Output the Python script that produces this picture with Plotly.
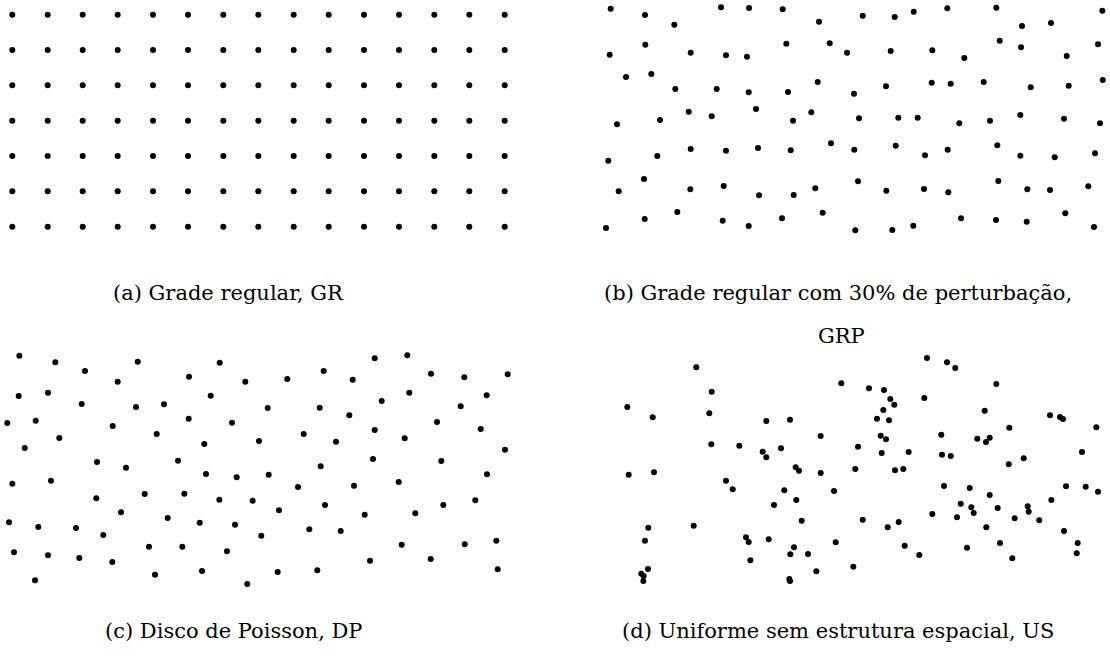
import plotly.graph_objects as go

# ---- point patterns (canvas coordinates, y grows downward) ----

# (a) regular grid: column and row positions
grid_cols = [12.3, 47.7, 82.7, 117.7, 153.0, 188.0, 223.3, 258.3, 293.7, 328.7,
             364.0, 399.0, 434.3, 469.3, 504.7]
grid_rows = [14.7, 50.0, 85.3, 120.7, 156.0, 191.3, 226.7]

# (b) regular grid with 30% perturbation
grp_x = [610.7, 645.0, 674.3, 721.0, 749.0, 782.7, 819.0, 609.7, 645.3, 690.7,
         726.0, 747.0, 786.3, 829.7, 847.0, 626.0, 651.3, 675.3, 716.7, 748.7,
         788.0, 817.7, 617.0, 660.0, 688.7, 711.7, 756.0, 793.0, 811.3, 608.3,
         657.3, 690.7, 726.0, 758.0, 790.7, 831.0, 644.0, 618.7, 690.3, 723.7,
         759.0, 793.7, 815.3, 606.0, 644.7, 677.3, 722.7, 748.7, 782.0, 822.7,
         862.7, 894.7, 913.7, 947.3, 996.3, 1022.0, 1051.0, 1102.3, 890.7, 932.3,
         964.3, 999.7, 1021.0, 1066.7, 1098.0, 854.0, 886.0, 931.7, 950.7, 983.7,
         1030.7, 1068.7, 1102.7, 859.0, 898.3, 917.7, 959.3, 990.0, 1020.3, 1064.0,
         1100.0, 854.3, 895.7, 925.0, 947.7, 997.3, 1020.3, 1054.7, 1095.0, 858.0,
         886.3, 924.0, 948.3, 998.3, 1027.3, 1050.0, 1088.3, 855.3, 892.3, 913.3,
         961.0, 996.0, 1026.7, 1065.3, 1094.0]
grp_y = [8.7, 15.0, 24.7, 7.3, 8.0, 9.3, 21.7, 54.7, 44.7, 52.7,
         55.3, 56.7, 43.7, 43.3, 52.7, 77.0, 74.0, 89.0, 89.0, 92.3,
         92.0, 82.0, 124.3, 120.0, 111.7, 116.3, 109.0, 120.7, 112.3, 160.7,
         156.0, 149.0, 150.7, 148.0, 150.3, 143.3, 179.0, 191.3, 189.3, 186.0,
         195.3, 195.0, 188.3, 228.0, 219.0, 212.0, 220.7, 226.0, 218.3, 212.7,
         15.7, 17.0, 11.7, 8.3, 7.7, 26.0, 23.0, 10.7, 51.0, 50.3,
         58.0, 40.7, 47.3, 56.0, 44.3, 93.7, 86.3, 82.7, 83.7, 82.0,
         87.3, 85.7, 80.0, 118.3, 117.7, 117.7, 123.3, 120.7, 115.0, 118.7,
         123.3, 149.7, 145.7, 155.3, 149.7, 145.3, 155.7, 157.3, 153.3, 181.3,
         190.7, 189.0, 192.3, 181.0, 189.3, 190.0, 186.3, 230.3, 230.0, 225.7,
         218.3, 220.0, 221.7, 213.3, 227.0]

# (c) Poisson disk
dp_x = [19.3, 55.3, 85.0, 137.7, 219.7, 117.7, 189.0, 245.3, 18.7, 48.0,
        81.7, 136.0, 164.0, 210.7, 7.3, 35.7, 112.7, 188.7, 232.0, 59.3,
        24.7, 156.7, 204.3, 97.0, 126.0, 178.0, 12.3, 51.0, 206.0, 236.7,
        96.3, 144.7, 184.3, 219.3, 252.7, 121.0, 9.0, 38.3, 76.0, 103.3,
        167.7, 199.7, 235.0, 14.0, 48.0, 79.3, 112.3, 149.0, 182.3, 227.0,
        35.0, 155.0, 202.0, 247.3,
        374.7, 407.3, 287.3, 323.7, 352.7, 431.0, 464.3, 507.7, 267.7, 319.7,
        349.3, 381.7, 409.3, 460.7, 486.7, 259.0, 303.7, 336.0, 374.7, 404.7,
        437.0, 480.7, 505.0, 268.7, 320.7, 298.0, 354.0, 373.0, 398.7, 441.3,
        487.0, 279.0, 325.0, 364.7, 415.3, 443.3, 475.3, 261.3, 309.3, 340.7,
        401.7, 464.7, 496.3, 277.7, 317.3, 370.0, 430.7, 497.7]
dp_y = [355.7, 362.3, 371.0, 361.7, 362.7, 381.7, 376.7, 381.7, 396.0, 392.7,
        404.0, 407.0, 404.3, 395.7, 423.0, 420.7, 426.0, 418.7, 422.7, 438.0,
        448.0, 434.0, 444.0, 462.0, 467.7, 460.7, 483.7, 480.7, 474.0, 477.3,
        498.3, 494.0, 493.7, 499.7, 500.7, 512.3, 522.3, 527.0, 528.0, 535.0,
        518.0, 522.7, 524.7, 552.3, 555.3, 558.0, 562.0, 546.7, 546.7, 551.3,
        580.3, 574.7, 571.0, 584.0,
        358.3, 355.3, 379.0, 371.0, 379.7, 373.7, 377.3, 374.3, 408.0, 407.7,
        415.3, 401.0, 392.7, 406.3, 395.3, 441.0, 434.0, 441.7, 430.0, 438.3,
        422.0, 429.0, 449.7, 474.7, 466.3, 487.0, 485.7, 459.0, 482.0, 461.0,
        474.3, 510.3, 505.0, 514.7, 513.3, 505.0, 500.3, 535.7, 529.3, 531.0,
        544.7, 544.3, 540.7, 572.0, 570.3, 560.7, 559.0, 569.3]

# (d) uniform, no spatial structure
us_x = [696.3, 841.3, 711.7, 627.3, 652.7, 709.3, 766.3, 790.0, 820.7, 711.3,
        739.3, 762.7, 766.3, 781.0, 795.7, 799.0, 820.7, 628.7, 654.0, 726.0,
        732.7, 784.3, 796.3, 834.0, 774.0, 801.7, 648.3, 693.7, 645.0, 746.0,
        748.7, 768.7, 835.7, 794.0, 790.3, 808.0, 750.3, 648.0, 641.3, 643.7,
        643.3, 816.3, 789.3, 790.0,
        927.0, 947.0, 955.3, 996.3, 869.0, 884.0, 890.3, 894.3, 883.3, 877.0,
        889.0, 924.3, 984.7, 1050.0, 1060.0, 1063.0, 1009.3, 1096.3, 880.7, 886.0,
        941.3, 977.3, 989.7, 986.0, 858.0, 881.7, 908.7, 942.0, 950.7, 1082.0,
        1023.7, 1008.7, 855.3, 895.0, 903.3, 944.0, 969.7, 1066.0, 1085.7, 1098.0,
        989.7, 1051.3, 960.7, 971.3, 973.7, 997.7, 1027.7, 1028.7, 932.3, 957.0,
        1014.7, 1039.3, 862.7, 887.7, 898.7, 986.3, 1064.0, 904.7, 919.3, 967.0,
        1000.0, 1012.3, 1077.7, 1076.7, 853.3]
us_y = [367.3, 383.3, 391.7, 407.0, 417.3, 413.3, 421.0, 419.7, 436.0, 444.3,
        445.7, 451.7, 457.3, 448.3, 467.3, 470.7, 473.0, 474.7, 472.3, 480.7,
        489.3, 490.3, 500.0, 491.0, 505.0, 520.7, 527.7, 525.7, 540.7, 537.3,
        542.0, 539.3, 542.3, 547.3, 554.3, 554.0, 560.3, 569.0, 573.7, 576.0,
        581.0, 571.3, 579.0, 581.0,
        358.0, 362.3, 368.0, 384.0, 388.3, 390.0, 399.0, 404.7, 410.0, 418.7,
        420.3, 398.0, 410.7, 415.3, 417.0, 419.0, 427.7, 427.3, 435.7, 439.3,
        434.7, 438.7, 437.7, 442.0, 446.7, 453.0, 452.0, 454.7, 456.0, 452.0,
        458.3, 464.3, 469.0, 470.3, 469.0, 486.0, 488.0, 486.3, 486.7, 491.7,
        495.0, 500.0, 503.7, 507.3, 513.0, 508.0, 506.3, 511.7, 514.0, 517.3,
        518.3, 520.3, 519.7, 527.3, 522.0, 527.3, 531.0, 545.7, 555.0, 547.7,
        543.0, 558.3, 543.0, 553.3, 566.7]

captions = [
    "(a) Grade regular, GR",
    "(b) Grade regular com 30% de perturbação,",
    "GRP",
    "(c) Disco de Poisson, DP",
    "(d) Uniforme sem estrutura espacial, US",
]

# ---- build figure ----
grid_x = [cx for cy in grid_rows for cx in grid_cols]
grid_y = [cy for cy in grid_rows for cx in grid_cols]

marker = dict(color="black", size=6, line=dict(width=0))
fig = go.Figure()
for xs, ys in [(grid_x, grid_y), (grp_x, grp_y), (dp_x, dp_y), (us_x, us_y)]:
    fig.add_trace(go.Scatter(x=xs, y=ys, mode="markers", marker=marker,
                             hoverinfo="skip", showlegend=False))

caption_font = dict(family="DejaVu Serif", size=21, color="black")
caption_pos = [(228, 293), (838, 293), (841, 336), (233, 631), (838, 631)]
for text, (cx, cy) in zip(captions, caption_pos):
    fig.add_annotation(x=cx, y=cy, xref="x", yref="y", text=text,
                       showarrow=False, font=caption_font,
                       xanchor="center", yanchor="middle")

fig.update_xaxes(range=[0, 1110], visible=False, fixedrange=True)
fig.update_yaxes(range=[656, 0], visible=False, fixedrange=True)
fig.update_layout(width=1110, height=656,
                  margin=dict(l=0, r=0, t=0, b=0),
                  paper_bgcolor="white", plot_bgcolor="white")

fig.write_html("out.html")
